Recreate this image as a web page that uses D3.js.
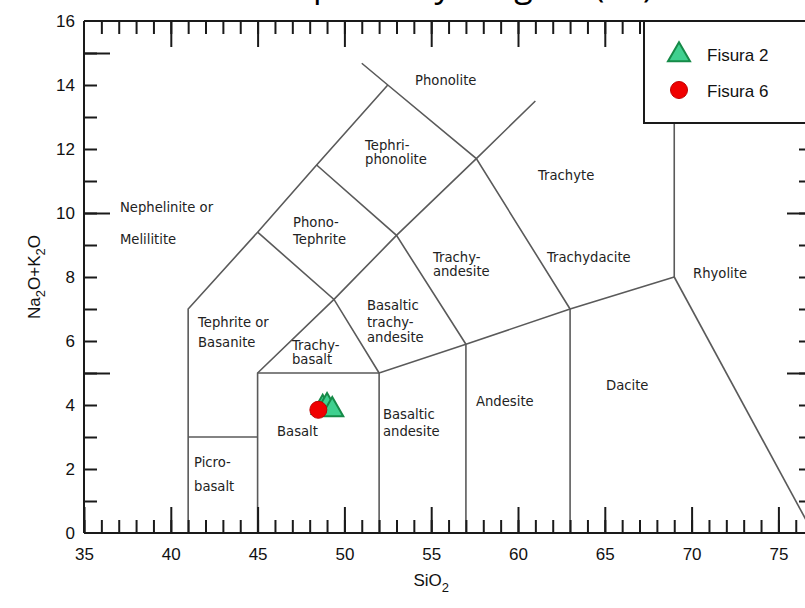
<!DOCTYPE html>
<html>
<head>
<meta charset="utf-8">
<script src="https://cdn.jsdelivr.net/npm/d3@7"></script>
<style>
  body { margin: 0; background: #fff; }
  svg { display: block; }
</style>
</head>
<body>
<svg id="chart" width="805" height="608"></svg>
<script>
// Axis tick labels
const xTickLabels = [35, 40, 45, 50, 55, 60, 65, 70, 75];
const yTickLabels = [0, 2, 4, 6, 8, 10, 12, 14, 16];

// TAS field boundaries (Le Bas et al., 1986) as [SiO2, Na2O+K2O] polylines
const boundaries = [
  [[41, 0], [41, 7], [45, 9.4], [48.4, 11.5], [52.5, 14]],
  [[51, 14.68], [52.5, 14], [57.6, 11.7], [63, 7]],
  [[45, 0], [45, 5], [49.4, 7.3], [53, 9.3], [57.6, 11.7], [61, 13.5]],
  [[41, 3], [45, 3]],
  [[45, 5], [52, 5], [57, 5.9], [63, 7], [69, 8]],
  [[45, 9.4], [49.4, 7.3], [52, 5]],
  [[48.4, 11.5], [53, 9.3], [57, 5.9]],
  [[52, 0], [52, 5]],
  [[57, 0], [57, 5.9]],
  [[63, 0], [63, 7]],
  [[69, 8], [69, 16]],
  [[69, 8], [77, 0]]
];

// Field names: one entry per text line, anchored at [SiO2, Na2O+K2O]
const fieldLabels = [
  ["Phonolite", 54.07, 14.0],
  ["Tephri-", 51.19, 11.98],
  ["phonolite", 51.19, 11.52],
  ["Phono-", 47.04, 9.55],
  ["Tephrite", 47.04, 9.02],
  ["Trachy-", 55.10, 8.48],
  ["andesite", 55.10, 8.02],
  ["Basaltic", 51.30, 6.98],
  ["trachy-", 51.30, 6.45],
  ["andesite", 51.30, 5.98],
  ["Trachy-", 46.98, 5.73],
  ["basalt", 46.98, 5.27],
  ["Trachyte", 61.15, 11.02],
  ["Trachydacite", 61.67, 8.48],
  ["Rhyolite", 70.08, 7.98],
  ["Andesite", 57.58, 3.98],
  ["Dacite", 65.07, 4.48],
  ["Nephelinite or", 37.07, 10.02],
  ["Melilitite", 37.07, 9.02],
  ["Tephrite or", 41.57, 6.45],
  ["Basanite", 41.57, 5.80],
  ["Basalt", 46.12, 3.02],
  ["Basaltic", 52.22, 3.55],
  ["andesite", 52.22, 3.02],
  ["Picro-", 41.34, 2.05],
  ["basalt", 41.34, 1.30]
];

// Samples [SiO2, Na2O+K2O]
const fisura2 = [[48.75, 3.92], [49.0, 3.98], [49.3, 3.85]];
const fisura6 = [[48.5, 3.85]];

const seriesNames = ["Fisura 2", "Fisura 6"];

const svg = d3.select("#chart");
const W = 805, H = 608;

const x = d3.scaleLinear().domain([35, 77]).range([84, 84 + 42 * 17.36]);
const y = d3.scaleLinear().domain([0, 16]).range([533, 21]);

const INK = "#1a1a1a";

// Title (runs off the top of the page; only its descenders show)
const titleText = "Tipo de roca y su diagrama (TAS)";
const title = svg.append("text")
  .attr("x", 300).attr("y", -3)
  .attr("font-family", "Open Sans, sans-serif")
  .attr("font-size", 34)
  .attr("fill", "#000")
  .text(titleText);
{
  const node = title.node();
  const n = titleText.length;
  const pStart = node.getStartPositionOfChar(2).x;
  const end = node.getEndPositionOfChar(n - 1).x;
  const ls = (340 - (end - pStart)) / (n - 3);
  title.attr("letter-spacing", ls);
  const p2 = node.getStartPositionOfChar(2).x;
  title.attr("x", 300 + (313 - p2));
}

// Field boundaries
const line = d3.line().x(d => x(d[0])).y(d => y(d[1]));
svg.append("g")
  .selectAll("path")
  .data(boundaries)
  .join("path")
  .attr("d", line)
  .attr("fill", "none")
  .attr("stroke", "#5a5a5a")
  .attr("stroke-width", 1.6);

// Field names
svg.append("g")
  .attr("font-family", "DejaVu Sans, sans-serif")
  .attr("font-size", 13.2)
  .attr("fill", "#222")
  .selectAll("text")
  .data(fieldLabels)
  .join("text")
  .attr("x", d => x(d[1]))
  .attr("y", d => y(d[2]))
  .text(d => d[0]);

// Axes: inward minor (every 1) and major (every 5) ticks
function styleAxis(g) {
  g.select(".domain").remove();
  g.selectAll(".tick line").attr("stroke", INK).attr("stroke-width", 2);
}
const xMinor = d3.range(35, 77);
const xMajor = d3.range(35, 77, 5);

svg.append("g").attr("transform", `translate(0,${y(0)})`)
  .call(d3.axisBottom(x).tickValues(xMinor).tickSize(-13).tickFormat(""))
  .call(styleAxis);
svg.append("g").attr("transform", `translate(0,${y(0)})`)
  .call(d3.axisBottom(x).tickValues(xMajor).tickSize(-26).tickFormat(""))
  .call(styleAxis);
svg.append("g").attr("transform", `translate(0,${y(0)})`)
  .call(d3.axisBottom(x).tickValues(xTickLabels).tickSize(0).tickPadding(15).tickFormat(d3.format("d")))
  .call(g => g.select(".domain").remove())
  .call(g => g.selectAll("text").attr("font-family", "Liberation Sans, Arial, sans-serif").attr("font-size", 17).attr("fill", "#111"));

svg.append("g").attr("transform", `translate(0,${y(16)})`)
  .call(d3.axisTop(x).tickValues(d3.range(36, 68)).tickSize(-13).tickFormat(""))
  .call(styleAxis);
svg.append("g").attr("transform", `translate(0,${y(16)})`)
  .call(d3.axisTop(x).tickValues(d3.range(40, 68, 5)).tickSize(-26).tickFormat(""))
  .call(styleAxis);

svg.append("g").attr("transform", `translate(${x(35)},0)`)
  .call(d3.axisLeft(y).tickValues(d3.range(1, 16)).tickSize(-13).tickFormat(""))
  .call(styleAxis);
svg.append("g").attr("transform", `translate(${x(35)},0)`)
  .call(d3.axisLeft(y).tickValues([5, 10, 15]).tickSize(-26).tickFormat(""))
  .call(styleAxis);
svg.append("g").attr("transform", `translate(${x(35)},0)`)
  .call(d3.axisLeft(y).tickValues(yTickLabels).tickSize(0).tickPadding(9).tickFormat(d3.format("d")))
  .call(g => g.select(".domain").remove())
  .call(g => g.selectAll("text").attr("font-family", "Liberation Sans, Arial, sans-serif").attr("font-size", 17).attr("fill", "#111"));

const xRight = 813;
svg.append("g").attr("transform", `translate(${xRight},0)`)
  .call(d3.axisRight(y).tickValues(d3.range(1, 13)).tickSize(-14).tickFormat(""))
  .call(styleAxis);
svg.append("g").attr("transform", `translate(${xRight},0)`)
  .call(d3.axisRight(y).tickValues([5, 10]).tickSize(-26).tickFormat(""))
  .call(styleAxis);

// Frame
const frame = svg.append("g").attr("stroke", INK).attr("stroke-width", 2).attr("fill", "none");
frame.append("line").attr("x1", x(35)).attr("x2", W + 5).attr("y1", y(16)).attr("y2", y(16));
frame.append("line").attr("x1", x(35)).attr("x2", W + 5).attr("y1", y(0)).attr("y2", y(0));
frame.append("line").attr("x1", x(35)).attr("x2", x(35)).attr("y1", y(16)).attr("y2", y(0));

// Axis titles
const yTitle = svg.append("text")
  .attr("transform", `translate(40,${y(8)}) rotate(-90)`)
  .attr("text-anchor", "middle")
  .attr("font-family", "Liberation Sans, Arial, sans-serif")
  .attr("font-size", 17)
  .attr("fill", "#111");
yTitle.append("tspan").text("Na");
yTitle.append("tspan").attr("dy", 5).attr("font-size", 13).text("2");
yTitle.append("tspan").attr("dy", -5).text("O+K");
yTitle.append("tspan").attr("dy", 5).attr("font-size", 13).text("2");
yTitle.append("tspan").attr("dy", -5).text("O");

const xTitle = svg.append("text")
  .attr("x", x(55)).attr("y", 586)
  .attr("text-anchor", "middle")
  .attr("font-family", "Liberation Sans, Arial, sans-serif")
  .attr("font-size", 17)
  .attr("fill", "#111");
xTitle.append("tspan").text("SiO");
xTitle.append("tspan").attr("dy", 6).attr("font-size", 13).text("2");

// Sample markers
const tri = d3.symbol().type(d3.symbolTriangle).size(210);
svg.append("g")
  .selectAll("path")
  .data(fisura2)
  .join("path")
  .attr("transform", d => `translate(${x(d[0])},${y(d[1])})`)
  .attr("d", tri)
  .attr("fill", "#3fd08f")
  .attr("stroke", "#168a48")
  .attr("stroke-width", 2);

svg.append("g")
  .selectAll("circle")
  .data(fisura6)
  .join("circle")
  .attr("cx", d => x(d[0]))
  .attr("cy", d => y(d[1]))
  .attr("r", 8.5)
  .attr("fill", "#f00000")
  .attr("stroke", "#c00000")
  .attr("stroke-width", 1);

// Legend
const lg = svg.append("g");
lg.append("rect")
  .attr("x", 644).attr("y", y(16)).attr("width", W - 644 + 10).attr("height", 123 - y(16))
  .attr("fill", "#fff").attr("stroke", INK).attr("stroke-width", 2);
lg.append("path")
  .attr("transform", "translate(679,55)")
  .attr("d", tri)
  .attr("fill", "#3fd08f").attr("stroke", "#168a48").attr("stroke-width", 2);
lg.append("circle")
  .attr("cx", 679).attr("cy", 90).attr("r", 8.5)
  .attr("fill", "#f00000").attr("stroke", "#c00000");
lg.selectAll("text.lab")
  .data(seriesNames)
  .join("text")
  .attr("class", "lab")
  .attr("x", 707)
  .attr("y", (d, i) => 61 + i * 36)
  .attr("font-family", "Liberation Sans, Arial, sans-serif")
  .attr("font-size", 17)
  .attr("fill", "#111")
  .text(d => d);
</script>
</body>
</html>
